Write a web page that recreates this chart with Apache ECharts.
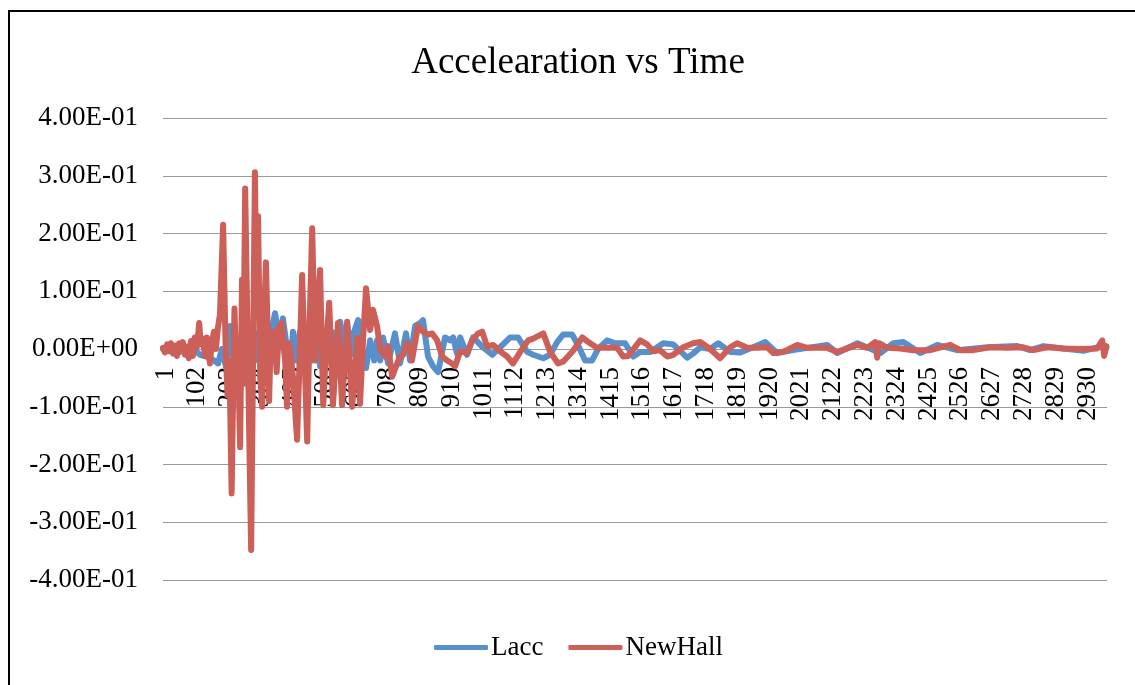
<!DOCTYPE html>
<html>
<head>
<meta charset="utf-8">
<title>Accelearation vs Time</title>
<script src="https://cdn.jsdelivr.net/npm/echarts@6/dist/echarts.min.js"></script>
<style>
  html, body { margin: 0; padding: 0; background: #fff; }
  #chart { width: 1135px; height: 685px; }
</style>
</head>
<body>
<div id="chart"></div>
<script>
// Number of recorded samples (category axis runs 1 .. SAMPLE_COUNT)
const SAMPLE_COUNT = 3000;
const LABEL_STEP = 101; // tick labels 1, 102, 203, ...

// Y axis range / ticks
const Y_MIN = -0.4;
const Y_MAX = 0.4;
const Y_STEP = 0.1;

// Lacc record: sample numbers and acceleration values
const laccT = [1, 23, 55, 87, 119, 150, 176, 188, 201, 214, 227, 239, 252, 265, 277, 290, 303, 316, 328, 341,
  357, 370, 382, 395, 405, 414, 424, 436, 449, 462, 475, 487, 500, 513, 525, 538, 551, 564, 576, 586,
  598, 608, 621, 633, 646, 659, 672, 681, 691, 700, 716, 738, 754, 773, 786, 802, 818, 827, 843, 859,
  875, 897, 913, 923, 935, 945, 967, 986, 1015, 1047, 1072, 1104, 1129, 1158, 1177, 1209, 1231, 1253, 1272, 1301,
  1320, 1342, 1364, 1383, 1412, 1437, 1469, 1495, 1517, 1549, 1590, 1622, 1666, 1685, 1708, 1739, 1765, 1803, 1835, 1876,
  1914, 1952, 2003, 2048, 2111, 2143, 2207, 2280, 2321, 2353, 2407, 2461, 2524, 2620, 2715, 2756, 2798, 2861, 2925, 2979, 2998];
const laccA = [0.0, 0.005, -0.005, 0.005, -0.01, -0.015, -0.025, 0.0, -0.03, 0.04, -0.03, 0.02, -0.04, 0.03, -0.03, 0.03, -0.02, 0.03, -0.03, 0.02,
  0.062, 0.02, 0.053, 0.0, -0.048, 0.03, -0.02, 0.03, -0.03, 0.04, -0.02, 0.03, -0.03, 0.03, -0.02, 0.03, -0.02, 0.047, 0.0, 0.045,
  -0.01, 0.03, 0.05, 0.0, -0.033, 0.015, -0.02, 0.015, -0.02, 0.02, -0.025, 0.027, -0.025, 0.027, -0.02, 0.04, 0.045, 0.05, -0.013, -0.03,
  -0.04, 0.02, 0.015, 0.02, -0.008, 0.02, -0.01, 0.02, 0.004, -0.01, 0.003, 0.02, 0.02, -0.005, -0.01, -0.016, -0.01, 0.012, 0.025, 0.025,
  0.006, -0.02, -0.02, 0.0, 0.015, 0.01, 0.01, -0.013, -0.005, -0.005, 0.01, 0.008, -0.015, -0.008, 0.003, 0.0, 0.01, -0.005, -0.006, 0.003,
  0.012, -0.007, -0.002, 0.002, 0.007, -0.007, 0.01, -0.007, 0.01, 0.012, -0.007, 0.007, -0.002, 0.003, 0.005, -0.002, 0.005, 0.001, -0.003, 0.004, 0.002];

// NewHall record: sample numbers and acceleration values
const newHallT = [1, 7, 14, 20, 26, 33, 39, 45, 52, 58, 64, 71, 77, 83, 90, 96, 102, 109, 116, 121,
  128, 134, 140, 150, 156, 163, 169, 175, 182, 192, 200, 206, 212, 219, 228, 235, 239, 246, 252, 256,
  262, 281, 293, 298, 303, 310, 316, 322, 328, 334, 338, 344, 350, 356, 362, 370, 379, 385, 389, 395,
  400, 405, 414, 420, 427, 436, 443, 450, 459, 467, 475, 484, 490, 500, 510, 519, 529, 541, 557, 570,
  586, 602, 618, 627, 637, 646, 659, 668, 681, 691, 707, 716, 729, 745, 754, 764, 776, 786, 792, 811,
  827, 843, 856, 872, 888, 904, 919, 929, 945, 967, 983, 1002, 1015, 1031, 1050, 1072, 1094, 1113, 1136, 1161,
  1177, 1209, 1231, 1256, 1272, 1304, 1333, 1352, 1380, 1422, 1444, 1463, 1479, 1517, 1539, 1558, 1580, 1603, 1622, 1654,
  1685, 1708, 1739, 1771, 1803, 1825, 1857, 1889, 1921, 1940, 1971, 2016, 2048, 2111, 2143, 2207, 2238, 2264, 2270, 2276,
  2302, 2343, 2384, 2438, 2502, 2534, 2575, 2629, 2683, 2734, 2766, 2810, 2861, 2925, 2969, 2985, 2991, 2998];
const newHallA = [0.002, -0.006, 0.008, -0.004, 0.01, -0.008, 0.006, -0.012, 0.01, -0.004, 0.012, -0.01, 0.004, -0.016, 0.014, -0.012, 0.02, 0.004, 0.045, 0.008,
  0.018, -0.012, 0.02, -0.025, 0.012, 0.03, 0.0, 0.035, 0.06, 0.215, 0.0, -0.08, -0.02, -0.25, 0.07, -0.05, 0.0, -0.17, 0.12, -0.06,
  0.278, -0.348, 0.306, 0.08, 0.23, -0.05, -0.1, 0.05, 0.15, 0.02, -0.09, 0.03, -0.02, 0.03, -0.04, 0.04, 0.045, 0.0, -0.02, -0.1,
  0.01, 0.0, -0.05, -0.1, -0.157, 0.0, 0.128, 0.0, -0.16, 0.05, 0.209, -0.02, 0.05, 0.137, -0.097, 0.0, 0.08, -0.097, 0.045, -0.097,
  0.047, -0.1, 0.02, -0.095, 0.02, 0.105, 0.033, 0.068, 0.04, 0.0, -0.013, 0.005, -0.048, -0.025, -0.013, -0.01, 0.01, 0.005, -0.02, 0.04,
  0.03, 0.025, 0.027, 0.015, -0.013, -0.02, -0.025, -0.03, -0.004, -0.007, 0.015, 0.027, 0.03, 0.004, 0.007, -0.004, -0.013, -0.025, -0.005, 0.015,
  0.018, 0.027, -0.005, -0.025, -0.022, -0.003, 0.02, 0.012, 0.002, 0.002, 0.002, -0.013, -0.012, 0.015, 0.008, -0.004, -0.002, -0.013, -0.01, 0.003,
  0.01, 0.012, 0.0, -0.016, 0.003, 0.01, 0.002, 0.002, 0.003, -0.007, -0.005, 0.007, 0.002, 0.002, -0.005, 0.007, 0.002, 0.012, -0.015, 0.01,
  0.002, 0.001, -0.002, -0.002, 0.007, -0.002, -0.002, 0.003, 0.002, 0.003, -0.002, 0.003, 0.001, 0.0, 0.001, 0.015, -0.012, 0.005];

// Category labels "1" .. "3000"
const categories = [];
for (let i = 1; i <= SAMPLE_COUNT; i++) categories.push(String(i));

// Pair sample numbers with values; category index is zero-based
function pairs(t, a) {
  return t.map((n, i) => [n - 1, a[i]]);
}

// Excel-like scientific notation: 4.00E-01, 0.00E+00
function sci(v) {
  if (Math.abs(v) < 1e-12) return '0.00E+00';
  const parts = v.toExponential(2).split('e');
  const exp = parseInt(parts[1], 10);
  const sign = exp < 0 ? '-' : '+';
  return parts[0] + 'E' + sign + String(Math.abs(exp)).padStart(2, '0');
}

const SERIF = '"Liberation Serif", "DejaVu Serif", serif';
const BLUE = '#5890CD';
const RED = '#CC5F57';

const GRID_TOP = 118;
const GRID_BOTTOM = 105;
const GRID_HEIGHT = 685 - GRID_TOP - GRID_BOTTOM;

const chart = echarts.init(document.getElementById('chart'), null, { renderer: 'canvas' });

chart.setOption({
  animation: false,
  backgroundColor: '#fff',
  title: {
    text: 'Accelearation vs Time',
    left: 573,
    textAlign: 'center',
    top: 40,
    textStyle: { fontFamily: SERIF, fontSize: 37, fontWeight: 'normal', color: '#000' }
  },
  legend: {
    top: 629,
    left: 429,
    itemWidth: 54,
    itemHeight: 5,
    itemGap: 25,
    icon: 'roundRect',
    textStyle: { fontFamily: SERIF, fontSize: 27, color: '#000', padding: [0, 0, 0, -2] },
    data: ['Lacc', 'NewHall']
  },
  grid: {
    left: 163,
    right: 28,
    top: GRID_TOP,
    bottom: GRID_BOTTOM,
    containLabel: false,
    outerBoundsMode: 'none'
  },
  xAxis: {
    type: 'category',
    data: categories,
    boundaryGap: false,
    // the category axis crosses the value axis at zero (middle of the plot)
    offset: -GRID_HEIGHT / 2,
    axisLine: { show: true, onZero: false, lineStyle: { color: '#9a9a9a', width: 1 } },
    axisTick: { show: false },
    splitLine: { show: false },
    axisLabel: {
      interval: LABEL_STEP - 1,
      rotate: 90,
      margin: 18,
      verticalAlign: 'top',
      lineHeight: 5,
      fontFamily: SERIF,
      fontSize: 27,
      color: '#000'
    }
  },
  yAxis: {
    type: 'value',
    min: Y_MIN,
    max: Y_MAX,
    interval: Y_STEP,
    axisLine: { show: false },
    axisTick: { show: false },
    splitLine: { show: true, lineStyle: { color: '#9a9a9a', width: 1 } },
    axisLabel: {
      margin: 25,
      fontFamily: SERIF,
      fontSize: 27,
      color: '#000',
      formatter: sci
    }
  },
  graphic: [{
    type: 'rect',
    silent: true,
    z: 100,
    shape: { x: 9, y: 11, width: 1300, height: 900 },
    style: { fill: 'none', stroke: '#000', lineWidth: 2 }
  }],
  series: [
    {
      name: 'Lacc',
      type: 'line',
      data: pairs(laccT, laccA),
      showSymbol: false,
      symbol: 'none',
      color: BLUE,
      lineStyle: { color: BLUE, width: 6, cap: 'round', join: 'round' },
      z: 2
    },
    {
      name: 'NewHall',
      type: 'line',
      data: pairs(newHallT, newHallA),
      showSymbol: false,
      symbol: 'none',
      color: RED,
      lineStyle: { color: RED, width: 6, cap: 'round', join: 'round' },
      z: 3
    }
  ]
});
</script>
</body>
</html>
